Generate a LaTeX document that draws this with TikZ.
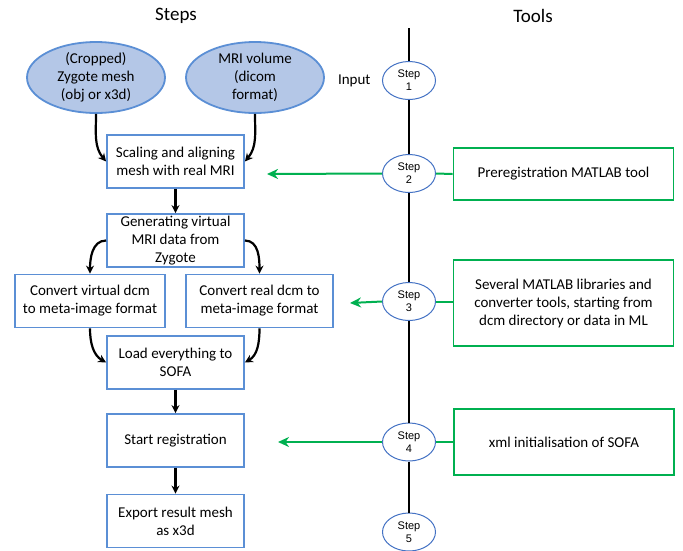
\documentclass[tikz,border=0pt]{standalone}
\usepackage{fontspec}
\setmainfont{Carlito}
\newfontfamily\arialfont{Liberation Sans}
\usetikzlibrary{arrows.meta,shapes.geometric,positioning}
\definecolor{boxblue}{HTML}{5B8FD5}
\definecolor{fillblue}{HTML}{B4C7E7}
\definecolor{stepblue}{HTML}{4472C4}
\definecolor{toolgreen}{HTML}{00B050}

\begin{document}
\begin{tikzpicture}[
    x=1pt, y=-1pt,
    font=\fontsize{15}{18}\selectfont,
    >={Stealth[length=8pt,width=8pt]},
    inp/.style={
		ellipse,
		draw=boxblue,
		line width=1.8pt,
		fill=fillblue,
		align=center,
		minimum width=138pt,
		minimum height=71pt,
		inner sep=0pt
	},
    proc/.style={
		rectangle,
		draw=boxblue,
		line width=1.8pt,
		fill=white,
		align=center,
		minimum width=137pt,
		minimum height=53pt,
		inner sep=2pt
	},
    tool/.style={
		rectangle,
		draw=toolgreen,
		line width=1.8pt,
		align=center,
		minimum width=220pt,
		inner sep=2pt
	},
    stepnode/.style={
		ellipse,
		draw=stepblue,
		line width=1pt,
		fill=white,
		align=center,
		minimum width=53pt,
		minimum height=38pt,
		inner sep=0pt,
		font=\arialfont\fontsize{11}{13}\selectfont
	},
    flow/.style={->, line width=2.2pt},
    toolline/.style={line width=2pt, draw=toolgreen},
    toolarrow/.style={->, line width=2pt, draw=toolgreen, >={Stealth[length=11pt,width=10pt,inset=3.5pt]}}
  ]
  \useasboundingbox (0,0) rectangle (683,550);

  % Headings
  \node (hsteps) at (176,16) {\fontsize{19}{22}\selectfont Steps};
  \node (htools) at (533,16) {\fontsize{19}{22}\selectfont Tools};

  % Steps column
  \node [inp] (zygote) at (96,77.5) {(Cropped)\\Zygote mesh\\(obj or x3d)};
  \node [inp] (mri) at (255,77.5) {MRI volume\\(dicom\\format)};
  \node [proc] (scale) at (175.5,161.5) {Scaling and aligning\\mesh with real MRI};
  \node [proc] (gen) at (175.5,240.5) {Generating virtual\\MRI data from\\Zygote};
  \node [proc, minimum width=150pt] (cvirt) at (90,301) {Convert virtual dcm\\to meta-image format};
  \node [proc, minimum width=147pt] (creal) at (259.5,301) {Convert real dcm to\\meta-image format};
  \node [proc] (load) at (175.5,362.5) {Load everything to\\SOFA};
  \node [proc] (start) at (175.5,440.5) {Start registration};
  \node [proc] (export) at (175.5,521) {Export result mesh\\as x3d};

  \draw [flow] (zygote.south) to[out=-90, in=130] (scale.west);
  \draw [flow] (mri.south) to[out=-90, in=50] (scale.east);
  \draw [flow] (scale) -- (gen);
  \draw [flow] (gen.west) to[out=180, in=90] (cvirt.north);
  \draw [flow] (gen.east) to[out=0, in=90] (creal.north);
  \draw [flow] (cvirt.south) to[out=-90, in=150] (load.west);
  \draw [flow] (creal.south) to[out=-90, in=30] (load.east);
  \draw [flow] (load) -- (start);
  \draw [flow] (start) -- (export);

  % Tools column
  \coordinate (top) at (409,28);
  \node [stepnode] (s1) at (409,80.5) {Step\\1};
  \node [stepnode] (s2) at (409,173.5) {Step\\2};
  \node [stepnode] (s3) at (409,301.5) {Step\\3};
  \node [stepnode] (s4) at (409,442) {Step\\4};
  \node [stepnode] (s5) at (409,532) {Step\\5};
  \node [left=8pt of s1] (input) {Input};

  \draw [line width=2.2pt] (top) -- (s1);
  \draw [line width=2.2pt] (s1) -- (s2);
  \draw [line width=2.2pt] (s2) -- (s3);
  \draw [line width=2.2pt] (s3) -- (s4);
  \draw [line width=2.2pt] (s4) -- (s5);

  \node [tool, minimum height=52pt] (prereg) at (563.5,174) {Preregistration MATLAB tool};
  \node [tool, minimum height=86pt] (libs) at (563.5,303) {Several MATLAB libraries and\\converter tools, starting from\\dcm directory or data in ML};
  \node [tool, minimum height=66pt] (xml) at (564,442) {xml initialisation of SOFA};

  \coordinate (tip2) at (267,174);
  \coordinate (tip3) at (350,303);
  \coordinate (tip4) at (278,442);

  \draw [toolline] (prereg.west) -- (s2.east);
  \draw [toolarrow] (s2.west) -- (tip2);
  \draw [toolline] (libs.west |- s3.east) -- (s3.east);
  \draw [toolarrow] (s3.west) -- (tip3);
  \draw [toolline] (xml.west) -- (s4.east);
  \draw [toolarrow] (s4.west) -- (tip4);
\end{tikzpicture}
\end{document}
